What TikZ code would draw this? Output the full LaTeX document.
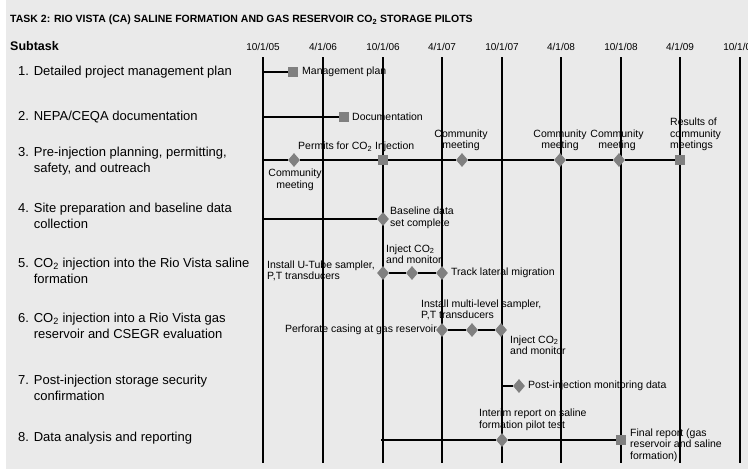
\documentclass[tikz,border=0pt]{standalone}
\usepackage{fontspec}
\setmainfont{Liberation Sans}
\usetikzlibrary{shapes.geometric}
\definecolor{panel}{HTML}{EAEAEA}
\definecolor{markgray}{HTML}{808080}
\tikzset{
  grid/.style={line width=2pt},
  bar/.style={line width=2.5pt},
  dmd/.style={diamond, fill=markgray, inner sep=0pt, minimum width=12pt, minimum height=14pt},
  sqr/.style={rectangle, fill=markgray, inner sep=0pt, minimum size=10pt},
  lbl/.style={font=\fontsize{10.5}{11.5}\selectfont, inner sep=0pt, align=left},
  task/.style={font=\fontsize{13}{16}\selectfont, anchor=west, align=left, inner sep=0pt}
}
\begin{document}
\begin{tikzpicture}[x=1pt, y=-1pt]
				\useasboundingbox (0,0) rectangle (748,475);
				\fill[panel] (6,0) rectangle (748,469);
				
				% header
				\node[anchor=west, inner sep=0pt, font=\fontsize{10.5}{12}\selectfont\bfseries] (title) at (10,20)
				{TASK 2: RIO VISTA (CA) SALINE FORMATION AND GAS RESERVOIR CO\textsubscript{2} STORAGE PILOTS};
				\node[anchor=west, inner sep=0pt, font=\fontsize{12.5}{14}\selectfont\bfseries] (sub) at (10,46) {Subtask};
				
				% time axis
				\foreach \x/\d [count=\i] in
				{263/{10/1/05}, 323/{4/1/06}, 383/{10/1/06}, 442/{4/1/07}, 502/{10/1/07},
				 561/{4/1/08}, 621/{10/1/08}, 680/{4/1/09}, 740/{10/1/09}}{
					\node[lbl, font=\fontsize{10}{11}\selectfont] (date\i) at (\x,47) {\d};
					\coordinate (top\i) at (\x,57);
					\coordinate (bot\i) at (\x,463);
					\draw[grid] (top\i) -- (bot\i);
				}
				
				% subtasks
				\node[task] (t1) at (18,72) {1. Detailed project management plan};
				\node[task] (t2) at (18,117) {2. NEPA/CEQA documentation};
				\node[task] (t3) at (18,161) {3. Pre-injection planning, permitting,\\\hphantom{3. }safety, and outreach};
				\node[task] (t4) at (18,216) {4. Site preparation and baseline data\\\hphantom{4. }collection};
				\node[task] (t5) at (18,271) {5. CO\textsubscript{2} injection into the Rio Vista saline\\\hphantom{5. }formation};
				\node[task] (t6) at (18,326) {6. CO\textsubscript{2} injection into a Rio Vista gas\\\hphantom{6. }reservoir and CSEGR evaluation};
				\node[task] (t7) at (18,388) {7. Post-injection storage security\\\hphantom{7. }confirmation};
				\node[task] (t8) at (18,438) {8. Data analysis and reporting};
				
				% bar starts
				\foreach \r/\y in {1/72, 2/117, 3/160, 4/219}{
					\coordinate (s\r) at (263,\y);
				}
				\coordinate (s7) at (501,386);
				\coordinate (s8) at (381,440);
				
				% milestones
				\node[sqr] (m1) at (293,72) {};
				\node[sqr] (m2) at (344,117) {};
				\node[dmd] (m31) at (294,160) {};
				\node[sqr] (m32) at (383,160) {};
				\node[dmd] (m33) at (462,160) {};
				\node[dmd] (m34) at (560,160) {};
				\node[dmd] (m35) at (619,160) {};
				\node[sqr] (m36) at (680,160) {};
				\node[dmd] (m4) at (383,219) {};
				\node[dmd] (m51) at (383,273) {};
				\node[dmd] (m52) at (412,273) {};
				\node[dmd] (m53) at (442,273) {};
				\node[dmd] (m61) at (442,330) {};
				\node[dmd] (m62) at (472,330) {};
				\node[dmd] (m63) at (501,330) {};
				\node[dmd] (m7) at (519,386) {};
				\node[dmd] (m81) at (502,440) {};
				\node[sqr] (m82) at (621,440) {};
				
				\foreach \a/\b in
				{s1/m1, s2/m2, s3/m31, m31/m32, m32/m33, m33/m34, m34/m35, m35/m36, s4/m4,
				 m51/m52, m52/m53, m61/m62, m62/m63, s7/m7, s8/m81, m81/m82}{
					\draw[bar] (\a)--(\b);
				}
				
				% milestone labels
				\node[lbl, anchor=west] (l1) at (302,72) {Management plan};
				\node[lbl, anchor=west] (l2) at (352,117) {Documentation};
				\node[lbl, anchor=north, align=center] (l31) at (295,169) {Community\\meeting};
				\node[lbl, anchor=west] (l32) at (298,147) {Permits for CO\textsubscript{2} Injection};
				\node[lbl, anchor=south, align=center] (l33) at (461,151) {Community\\meeting};
				\node[lbl, anchor=south, align=center] (l34) at (560,151) {Community\\meeting};
				\node[lbl, anchor=south, align=center] (l35) at (617,151) {Community\\meeting};
				\node[lbl, anchor=south west] (l36) at (670,151) {Results of\\community\\meetings};
				\node[lbl, anchor=west] (l4) at (390,218) {Baseline data\\set complete};
				\node[lbl, anchor=west] (l51) at (267,271) {Install U-Tube sampler,\\P,T transducers};
				\node[lbl, anchor=west] (l52) at (386,254) {Inject CO\textsubscript{2}\\and monitor};
				\node[lbl, anchor=west] (l53) at (451,273) {Track lateral migration};
				\node[lbl, anchor=east] (l61) at (437,330) {Perforate casing at gas reservoir};
				\node[lbl, anchor=west] (l62) at (421,310) {Install multi-level sampler,\\P,T transducers};
				\node[lbl, anchor=west] (l63) at (510,345) {Inject CO\textsubscript{2}\\and monitor};
				\node[lbl, anchor=west] (l7) at (528,386) {Post-injection monitoring data};
				\node[lbl, anchor=west] (l81) at (479,420) {Interim report on saline\\formation pilot test};
				\node[lbl, anchor=west] (l82) at (630,445) {Final report (gas\\reservoir and saline\\formation)};
			\end{tikzpicture}
\end{document}
